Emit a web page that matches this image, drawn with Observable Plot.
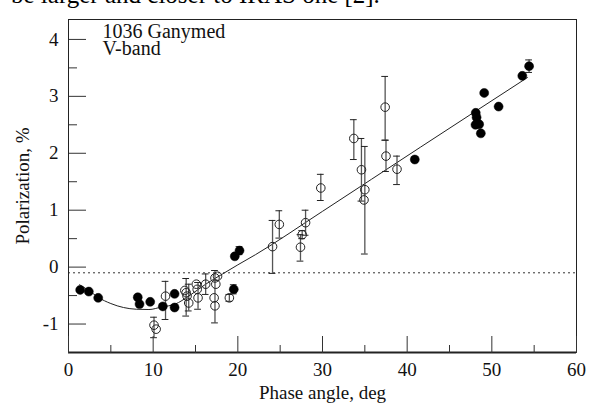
<!DOCTYPE html>
<html><head><meta charset="utf-8">
<script src="https://cdn.jsdelivr.net/npm/d3@7"></script>
<script src="https://cdn.jsdelivr.net/npm/@observablehq/plot@0.6"></script>
<style>
html,body{margin:0;padding:0;background:#fff;}
body{width:609px;height:404px;overflow:hidden;position:relative;font-family:"Liberation Serif","DejaVu Serif",serif;}
#chart{position:absolute;left:0;top:0;}
#cut{position:absolute;left:11px;top:-18px;font-size:25px;line-height:25px;color:#000;white-space:nowrap;}
</style></head><body>
<div id="chart"></div>
<div id="cut"></div>
<script>
const cutText = "be larger and closer to IRAS one [2].";
const titleLines = ["1036 Ganymed", "V-band"];
const xLabel = "Phase angle, deg";
const yLabel = "Polarization, %";
const xDomain = [0, 60];
const yDomain = [-1.5, 4.35];
const xMajorTicks = [0, 10, 20, 30, 40, 50, 60];
const xMinorTicks = [5, 15, 25, 35, 45, 55];
const yMajorTicks = [-1, 0, 1, 2, 3, 4];
const yMinorTicks = [-0.5, 0.5, 1.5, 2.5, 3.5];
const refLevel = [-0.1];

// filled symbols
const filledPhase = [1.38, 2.40, 3.51, 8.18, 8.39, 9.65, 11.14, 12.53, 12.53, 19.64, 20.2, 19.52, 40.9, 49.1, 50.8, 48.1, 48.2, 48.07, 48.5, 48.7, 53.6, 54.4];
const filledPol   = [-0.40, -0.43, -0.54, -0.53, -0.65, -0.61, -0.69, -0.71, -0.47, 0.19, 0.29, -0.39, 1.89, 3.06, 2.82, 2.71, 2.63, 2.50, 2.51, 2.35, 3.36, 3.53];
const filledLo    = [null, null, null, null, null, null, null, null, null, null, 0.22, -0.47, null, null, null, null, null, null, null, null, null, 3.42];
const filledHi    = [null, null, null, null, null, null, null, null, null, null, 0.36, -0.31, null, null, null, null, null, null, null, null, null, 3.64];

// open symbols
const openPhase = [10.1, 10.35, 11.46, 13.74, 13.9, 14.0, 14.2, 15.1, 15.2, 15.3, 16.2, 17.3, 17.4, 17.2, 17.3, 17.6, 19.0, 24.1, 24.9, 27.4, 27.6, 28.0, 29.8, 33.7, 34.6, 35.0, 34.9, 37.4, 37.5, 38.8];
const openPol   = [-1.02, -1.09, -0.51, -0.41, -0.45, -0.51, -0.63, -0.30, -0.39, -0.54, -0.30, -0.19, -0.30, -0.54, -0.68, -0.16, -0.54, 0.36, 0.75, 0.35, 0.57, 0.78, 1.39, 2.26, 1.71, 1.36, 1.18, 2.81, 1.95, 1.72];
const openLo    = [-1.24, null, -0.92, null, -0.86, null, -0.77, null, null, -0.74, -0.48, null, null, null, -0.98, null, -0.60, -0.11, 0.51, 0.105, 0.50, 0.56, 1.17, 1.89, 1.16, 0.23, null, 2.23, 1.68, 1.45];
const openHi    = [-0.88, null, -0.25, null, -0.20, null, -0.30, null, null, -0.27, -0.12, null, null, null, -0.06, null, -0.48, 0.82, 0.99, 0.57, 0.64, 1.00, 1.63, 2.59, 2.26, 2.12, null, 3.35, 2.23, 1.95];

// fitted phase curve
const curvePhase = [1.3, 2.4, 3.5, 5.0, 6.5, 8.0, 9.5, 11.0, 12.6, 14.2, 16.2, 18.2, 20.0, 22.1, 30.0, 41.6, 54.2];
const curvePol   = [-0.31, -0.41, -0.53, -0.64, -0.71, -0.74, -0.745, -0.70, -0.65, -0.51, -0.30, -0.12, 0.04, 0.22, 0.98, 2.11, 3.33];

const filled = filledPhase.map((x, i) => ({x, y: filledPol[i], lo: filledLo[i], hi: filledHi[i]}));
const open = openPhase.map((x, i) => ({x, y: openPol[i], lo: openLo[i], hi: openHi[i]}));
const curve = curvePhase.map((x, i) => ({x, y: curvePol[i]}));
const bars = [...open, ...filled].filter(d => d.lo != null);
const caps = bars.flatMap(d => [{x: d.x, y: d.lo}, {x: d.x, y: d.hi}]);
const capHalf = 0.4;
const noText = () => "";

document.getElementById("cut").textContent = cutText;

const chart = Plot.plot({
  width: 609,
  height: 404,
  marginLeft: 68,
  marginRight: 33,
  marginTop: 19,
  marginBottom: 52,
  style: {fontFamily: '"Liberation Serif", "DejaVu Serif", serif', fontSize: "19px", color: "#111", background: "transparent"},
  x: {domain: xDomain, axis: null},
  y: {domain: yDomain, axis: null},
  marks: [
    Plot.ruleY(refLevel, {stroke: "#333", strokeWidth: 1, strokeDasharray: "2,3"}),
    Plot.line(curve, {x: "x", y: "y", curve: "monotone-x", stroke: "#222", strokeWidth: 1}),
    Plot.ruleX(bars, {x: "x", y1: "lo", y2: "hi", stroke: "#555", strokeWidth: 1.3}),
    Plot.ruleY(caps, {y: "y", x1: d => d.x - capHalf, x2: d => d.x + capHalf, stroke: "#222", strokeWidth: 1}),
    Plot.dot(open, {x: "x", y: "y", r: 4.3, stroke: "#222", strokeWidth: 1, fill: "none"}),
    Plot.dot(filled, {x: "x", y: "y", r: 4.5, fill: "#000", stroke: "#000", strokeWidth: 0.5}),
    Plot.frame({stroke: "#222", strokeWidth: 1}),
    Plot.ruleY(yDomain.slice(0, 1), {stroke: "#222", strokeWidth: 2}),
    // inward tick marks (drawn from the frame edge into the plot)
    Plot.axisX(xMajorTicks, {anchor: "top", frameAnchor: "bottom", tickSize: 17, tickFormat: noText, stroke: "#333", label: null}),
    Plot.axisX(xMinorTicks, {anchor: "top", frameAnchor: "bottom", tickSize: 8, tickFormat: noText, stroke: "#333", label: null}),
    Plot.axisY(yMajorTicks, {anchor: "right", frameAnchor: "left", tickSize: 17, tickFormat: noText, stroke: "#333", label: null}),
    Plot.axisY(yMinorTicks, {anchor: "right", frameAnchor: "left", tickSize: 8, tickFormat: noText, stroke: "#333", label: null}),
    // tick labels and axis titles
    Plot.axisX(xMajorTicks, {anchor: "bottom", tickSize: 0, tickPadding: 10, tickFormat: d => String(d), fill: "#111", label: xLabel, labelAnchor: "center", labelOffset: 46, labelArrow: "none"}),
    Plot.axisY(yMajorTicks, {anchor: "left", tickSize: 0, tickPadding: 10, tickFormat: d => String(d), fill: "#111", label: yLabel, labelAnchor: "center", labelOffset: 53, labelArrow: "none"}),
    Plot.text(titleLines.slice(0, 1), {frameAnchor: "top-left", dx: 34, dy: 4, lineAnchor: "top", textAnchor: "start", fontSize: 20, fill: "#111"}),
    Plot.text(titleLines.slice(1, 2), {frameAnchor: "top-left", dx: 34, dy: 21, lineAnchor: "top", textAnchor: "start", fontSize: 20, fill: "#111"})
  ]
});
document.getElementById("chart").appendChild(chart);
</script>
</body></html>
